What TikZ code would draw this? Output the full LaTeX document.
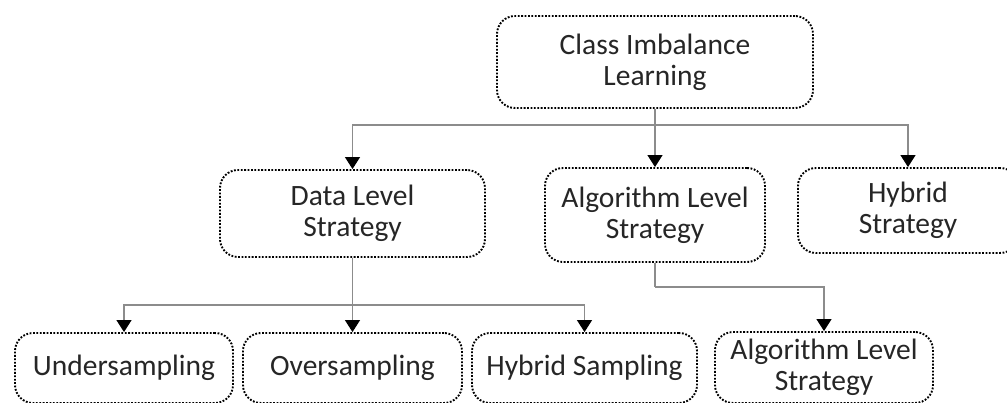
\documentclass[tikz,border=0pt]{standalone}
\usepackage{fontspec}
\setmainfont{Carlito}
\usetikzlibrary{arrows.meta}
\tikzset{
  box/.style={draw=black, line width=1.9pt, dash pattern=on 1.8pt off 1.6pt,
    rounded corners=18pt, align=center, inner sep=0pt, text=black!85,
    font=\fontsize{29.5}{31}\selectfont},
  conn/.style={draw=black!45, line width=1.2pt},
  arr/.style={conn, -{Triangle[width=15pt,length=12pt,color=black]}}
}
\begin{document}
\begin{tikzpicture}[x=1pt,y=1pt]
  \useasboundingbox (0,0) rectangle (1007,402);
  \clip (0,0) rectangle (1007,402);
  \fill[white] (0,0) rectangle (1007,402);

  % root
  \node[box, minimum width=316pt, minimum height=92pt] (root) at (655,340) {Class Imbalance\\Learning};

  % second level
  \node[box, minimum width=265pt, minimum height=87pt] (data) at (352.5,188.5) {Data Level\\Strategy};
  \node[box, minimum width=220pt, minimum height=94pt] (alg) at (655,187) {Algorithm Level\\Strategy};
  \node[box, minimum width=220pt, minimum height=85pt] (hyb) at (908,191.5) {Hybrid\\Strategy};

  % third level
  \node[box, minimum width=218pt, minimum height=70pt] (under) at (124,34) {Undersampling};
  \node[box, minimum width=219pt, minimum height=70pt] (over) at (352.5,34) {Oversampling};
  \node[box, minimum width=225pt, minimum height=70pt] (hsamp) at (584.5,34) {Hybrid Sampling};
  \node[box, minimum width=218pt, minimum height=71pt] (alg2) at (824,34.5) {Algorithm Level\\Strategy};

  % junctions
  \coordinate (j1) at (655,277);
  \coordinate (j2) at (352.5,97);
  \coordinate (j3) at (655,115);

  % connectors from the root
  \draw[conn] (root.south) -- (j1);
  \draw[arr] (j1) -| (data.north);
  \draw[arr] (j1) -- (alg.north);
  \draw[arr] (j1) -| (hyb.north);

  % connectors from the data level
  \draw[conn] (data.south) -- (j2);
  \draw[arr] (j2) -| (under.north);
  \draw[arr] (j2) -- (over.north);
  \draw[arr] (j2) -| (hsamp.north);

  % connector from the algorithm level
  \draw[conn] (alg.south) -- (j3);
  \draw[arr] (j3) -| (alg2.north);
\end{tikzpicture}
\end{document}
